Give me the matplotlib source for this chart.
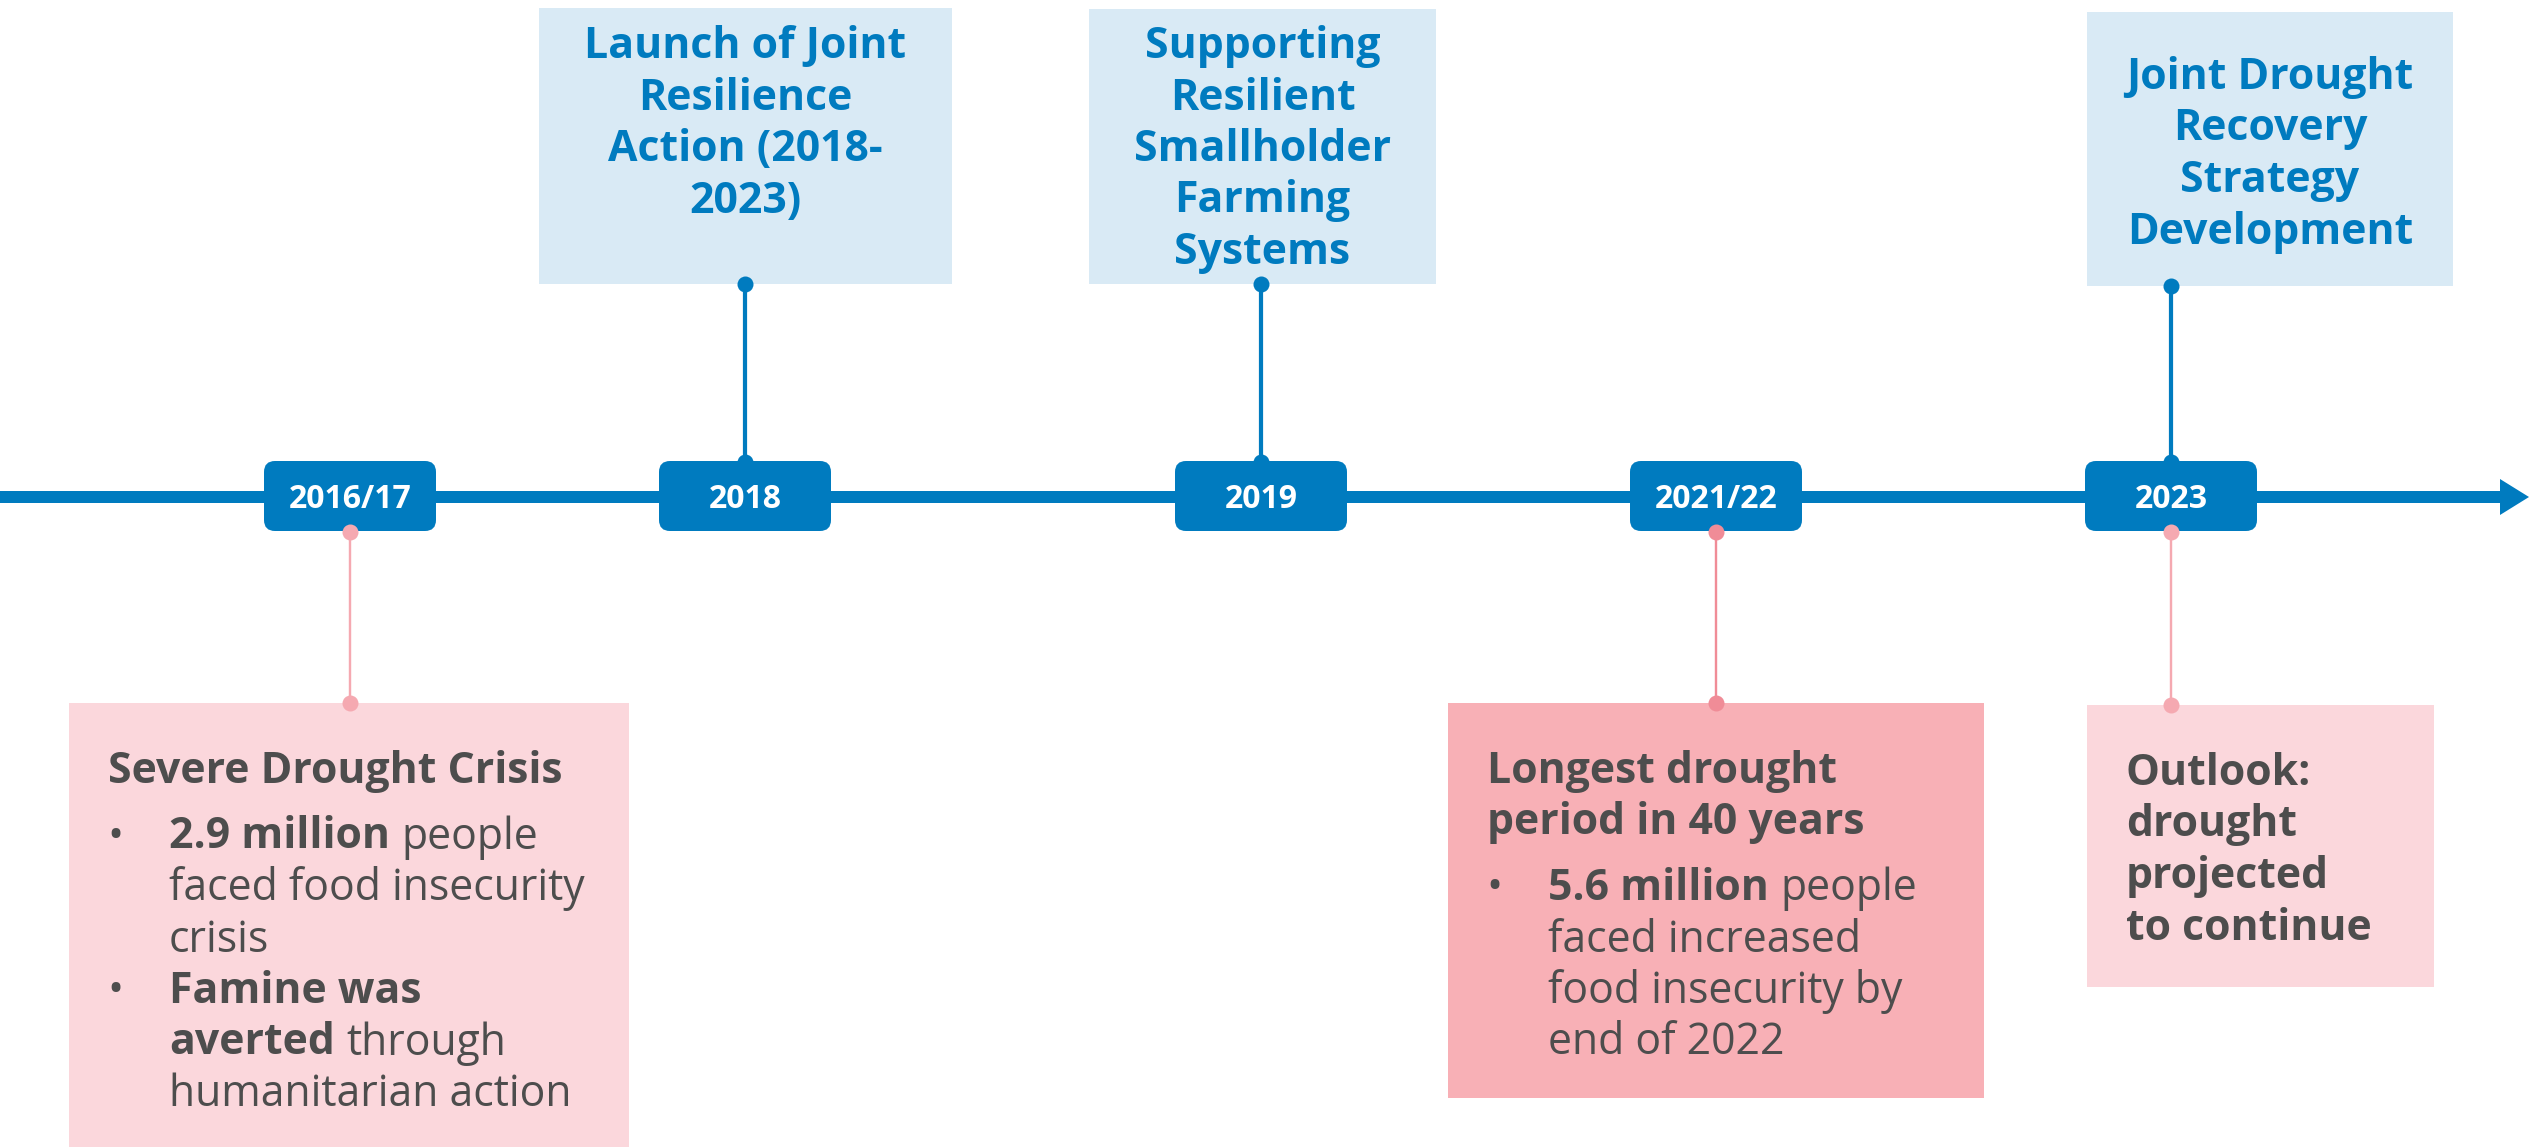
import matplotlib.pyplot as plt
from matplotlib.patches import Rectangle, FancyBboxPatch

plt.rcParams['font.family'] = ['Open Sans', 'DejaVu Sans']

# ---- data ----
years = ['2016/17', '2018', '2019', '2021/22', '2023']

top_titles = [
    ['Launch of Joint', 'Resilience', 'Action (2018-', '2023)'],
    ['Supporting', 'Resilient', 'Smallholder', 'Farming', 'Systems'],
    ['Joint Drought', 'Recovery', 'Strategy', 'Development'],
]
top_year = [1, 2, 4]

# each bullet is a list of lines, each line a list of (text, bold) pieces
bottom_titles = [
    ['Severe Drought Crisis'],
    ['Longest drought', 'period in 40 years'],
    ['Outlook:', 'drought', 'projected', 'to continue'],
]
bottom_bullets = [
    [
        [[('2.9 million', True), ('people', False)],
         [('faced food insecurity', False)],
         [('crisis', False)]],
        [[('Famine was', True)],
         [('averted', True), ('through', False)],
         [('humanitarian action', False)]],
    ],
    [
        [[('5.6 million', True), ('people', False)],
         [('faced increased', False)],
         [('food insecurity by', False)],
         [('end of 2022', False)]],
    ],
    [],
]
bottom_year = [0, 3, 4]

# ---- layout (pixels) ----
W, H = 2529, 1147
year_x = [350, 745, 1261, 1716, 2171]
line_y = 497
yb_w, yb_h = 172, 70

top_boxes = [(539, 8, 413, 276), (1089, 9, 347, 275), (2087, 12, 366, 274)]
top_first_base = [58, 58, 89]
bottom_boxes = [(69, 703, 560, 460), (1448, 703, 536, 395), (2087, 705, 347, 282)]
bottom_fill = ['#FBD7DC', '#F8B0B6', '#FBD7DC']
bottom_link = ['#F5A9B1', '#F08C97', '#F5A9B1']

BLUE = '#007BBF'
LIGHT_BLUE = '#D9EAF5'
GREY = '#4D4D4D'
FS = 30.8
LS = 51.5          # line step in px
PT = 72 / 100      # px -> pt

fig = plt.figure(figsize=(W / 100, H / 100), dpi=100)
ax = fig.add_axes([0, 0, 1, 1])
ax.set_xlim(0, W)
ax.set_ylim(H, 0)
ax.axis('off')
renderer = fig.canvas.get_renderer()

# main timeline with arrow
ax.plot([0, 2505], [line_y, line_y], color=BLUE, lw=12 * PT, solid_capstyle='butt', zorder=2)
ax.fill([2500, 2529, 2500], [line_y - 18, line_y, line_y + 18], color=BLUE, lw=0, zorder=2)

# year boxes
for x, label in zip(year_x, years):
    ax.add_patch(FancyBboxPatch((x - yb_w / 2, line_y - yb_h / 2 - 1), yb_w, yb_h,
                                boxstyle='round,pad=0,rounding_size=11',
                                fc=BLUE, ec='none', zorder=3))
    ax.text(x, line_y + 11, label, color='white', fontsize=23, fontweight='bold',
            ha='center', va='baseline', zorder=4)

# top milestones
for (bx, by, bw, bh), lines, yi, base in zip(top_boxes, top_titles, top_year, top_first_base):
    ax.add_patch(Rectangle((bx, by), bw, bh, fc=LIGHT_BLUE, ec='none', zorder=1))
    cx = bx + bw / 2
    for i, ln in enumerate(lines):
        ax.text(cx, base + i * LS, ln, color=BLUE, fontsize=FS, fontweight='bold',
                ha='center', va='baseline', zorder=4)
    x = year_x[yi]
    ax.plot([x, x], [by + bh, line_y - yb_h / 2], color=BLUE, lw=3 * PT * 1.4, zorder=2)
    ax.plot([x, x], [by + bh, line_y - yb_h / 2], 'o', color=BLUE, ms=16 * PT,
            mec='none', zorder=5)


def space_width():
    a = ax.text(0, 0, 'a a', fontsize=FS)
    b = ax.text(0, 0, 'aa', fontsize=FS)
    w = a.get_window_extent(renderer).width - b.get_window_extent(renderer).width
    a.remove()
    b.remove()
    return w


SP = space_width()

# bottom events
for (bx, by, bw, bh), titles, bullets, yi, fc, lc in zip(
        bottom_boxes, bottom_titles, bottom_bullets, bottom_year, bottom_fill, bottom_link):
    ax.add_patch(Rectangle((bx, by), bw, bh, fc=fc, ec='none', zorder=1))
    y = by + 80
    for ln in titles:
        ax.text(bx + 39, y, ln, color=GREY, fontsize=FS, fontweight='bold',
                va='baseline', zorder=4)
        y += LS
    y += 14
    for bullet in bullets:
        ax.text(bx + 46, y, '\u2022', color=GREY, fontsize=FS, ha='center',
                va='baseline', zorder=4)
        for ln in bullet:
            tx = bx + 100
            for k, (piece, bold) in enumerate(ln):
                if k > 0:
                    tx += SP
                t = ax.text(tx, y, piece, color=GREY, fontsize=FS,
                            fontweight='bold' if bold else 'normal',
                            va='baseline', zorder=4)
                tx += t.get_window_extent(renderer).width
            y += LS
    x = year_x[yi]
    ax.plot([x, x], [line_y + yb_h / 2, by], color=lc, lw=2.4 * PT, zorder=2)
    ax.plot([x, x], [line_y + yb_h / 2, by], 'o', color=lc, ms=16 * PT,
            mec='none', zorder=5)

fig.savefig('out.png', dpi=100, facecolor='white')
